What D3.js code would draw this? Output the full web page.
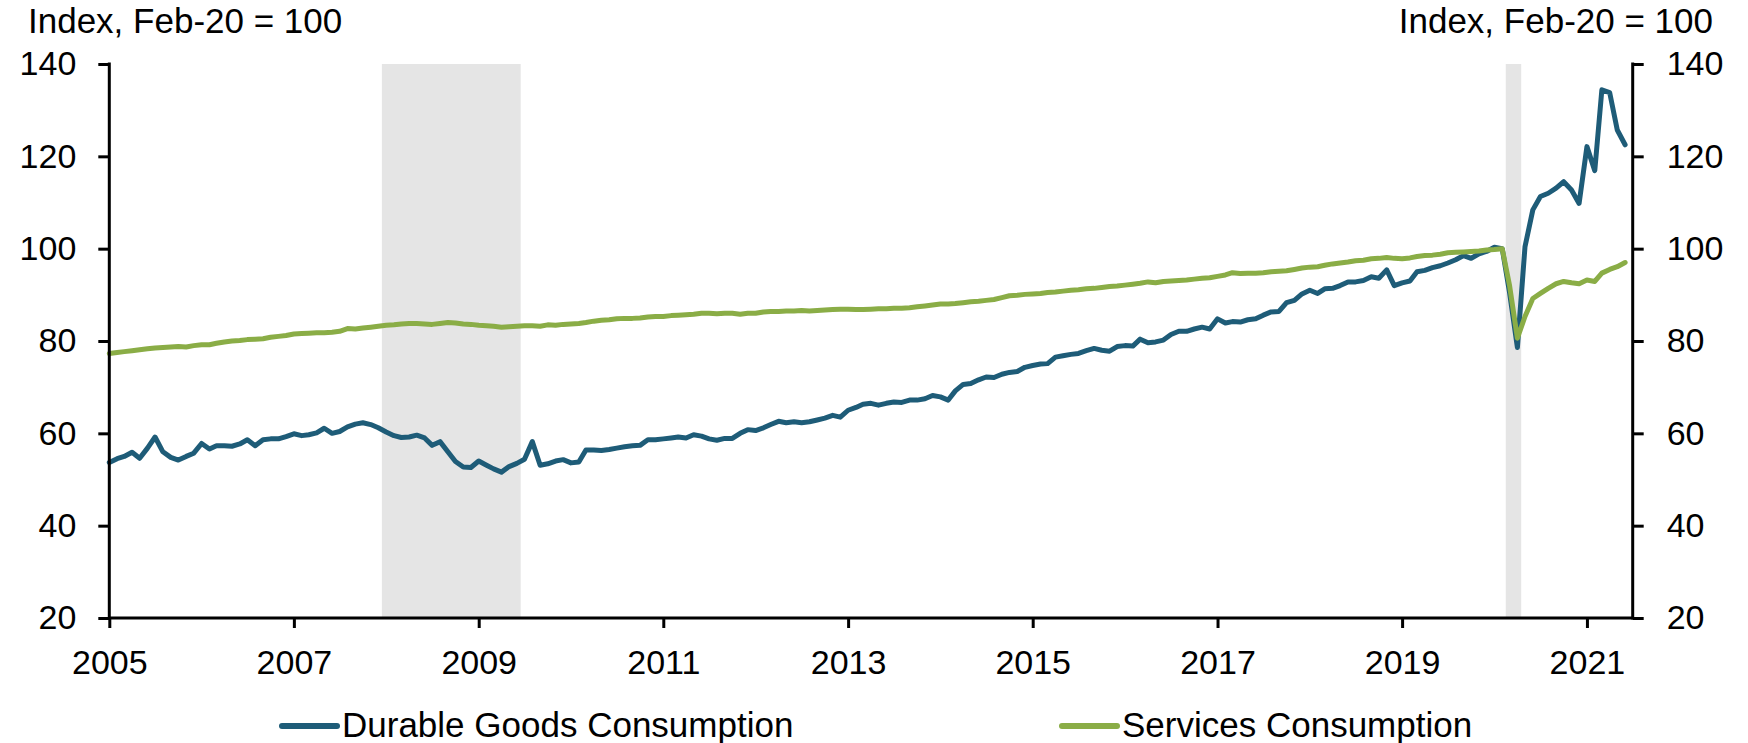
<!DOCTYPE html>
<html>
<head>
<meta charset="utf-8">
<script src="https://cdnjs.cloudflare.com/ajax/libs/d3/7.8.5/d3.min.js"></script>
<style>
  body { margin: 0; background: #fff; }
  svg { display: block; font-family: "Liberation Sans", Arial, sans-serif; }
</style>
</head>
<body>
<svg></svg>
<script>
// monthly, Jan 2005 .. Jun 2021
const startMonth = new Date(2005, 0, 1);

const durable = [
  53.7, 54.5, 55.0, 55.9, 54.6, 56.8, 59.2, 56.0, 54.8, 54.2, 55.0, 55.7,
  57.8, 56.6, 57.3, 57.3, 57.2, 57.7, 58.6, 57.3, 58.6, 58.8, 58.8, 59.3,
  59.9, 59.5, 59.7, 60.1, 61.1, 60.0, 60.4, 61.4, 62.0, 62.3, 61.9, 61.2,
  60.3, 59.5, 59.1, 59.2, 59.6, 59.0, 57.4, 58.2, 56.0, 53.9, 52.7, 52.6,
  54.0, 53.1, 52.3, 51.6, 52.8, 53.5, 54.4, 58.2, 53.1, 53.4, 54.0, 54.3,
  53.6, 53.8, 56.4, 56.4, 56.3, 56.5, 56.8, 57.1, 57.3, 57.4, 58.6, 58.6,
  58.8, 59.0, 59.2, 59.0, 59.7, 59.4, 58.8, 58.5, 58.9, 58.9, 60.0, 60.8,
  60.6, 61.2, 61.9, 62.6, 62.3, 62.5, 62.3, 62.5, 62.9, 63.3, 63.9, 63.5,
  65.0, 65.6, 66.3, 66.5, 66.1, 66.5, 66.8, 66.7, 67.2, 67.2, 67.5, 68.2,
  67.9, 67.2, 69.2, 70.6, 70.8, 71.6, 72.2, 72.1, 72.8, 73.2, 73.4, 74.3,
  74.7, 75.0, 75.1, 76.5, 76.8, 77.1, 77.3, 77.9, 78.4, 78.0, 77.8, 78.8,
  79.0, 78.9, 80.4, 79.6, 79.8, 80.2, 81.4, 82.1, 82.1, 82.6, 83.0, 82.6,
  84.8, 83.9, 84.2, 84.1, 84.6, 84.8, 85.6, 86.3, 86.4, 88.3, 88.8, 90.2,
  91.0, 90.3, 91.3, 91.4, 92.0, 92.8, 92.8, 93.1, 93.9, 93.6, 95.4, 92.0,
  92.6, 93.0, 95.0, 95.3, 95.9, 96.3, 96.9, 97.6, 98.5, 97.9, 98.9, 99.4,
  100.3, 100.0, 90.5, 78.6, 100.4, 108.4, 111.3, 112.0, 113.1, 114.5, 112.7, 109.8,
  122.1, 116.9, 134.4, 133.8, 125.7, 122.5
];

const services = [
  77.3, 77.5, 77.7, 77.9, 78.1, 78.3, 78.5, 78.6, 78.7, 78.8, 78.7, 79.0,
  79.2, 79.2, 79.5, 79.8, 80.0, 80.1, 80.3, 80.4, 80.5, 80.8, 81.0, 81.2,
  81.5, 81.6, 81.7, 81.8, 81.8, 81.9, 82.1, 82.7, 82.6, 82.8, 83.0, 83.2,
  83.4, 83.5, 83.7, 83.8, 83.8, 83.7, 83.6, 83.8, 84.0, 83.9, 83.7, 83.6,
  83.4, 83.3, 83.2, 83.0, 83.1, 83.2, 83.3, 83.3, 83.2, 83.5, 83.4, 83.6,
  83.7, 83.8, 84.0, 84.3, 84.5, 84.6, 84.8, 84.9, 84.9, 85.0, 85.2, 85.3,
  85.3, 85.5, 85.6, 85.7, 85.8, 86.0, 86.0, 85.9, 86.0, 86.0, 85.8, 86.0,
  86.0, 86.3, 86.4, 86.4, 86.5, 86.5, 86.6, 86.5, 86.6, 86.7, 86.8, 86.9,
  86.9, 86.8, 86.8, 86.9, 87.0, 87.0, 87.1, 87.1, 87.2, 87.4, 87.6, 87.8,
  88.0, 88.0, 88.1, 88.3, 88.5, 88.6, 88.8, 89.0, 89.4, 89.8, 89.9, 90.1,
  90.2, 90.3, 90.5, 90.6, 90.8, 91.0, 91.1, 91.3, 91.4, 91.6, 91.8, 91.9,
  92.1, 92.3, 92.5, 92.8, 92.6, 92.9, 93.0, 93.1, 93.2, 93.4, 93.6, 93.7,
  94.0, 94.3, 94.8, 94.6, 94.7, 94.7, 94.8, 95.0, 95.1, 95.2, 95.5, 95.8,
  96.0, 96.1, 96.4, 96.7, 96.9, 97.1, 97.4, 97.5, 97.8, 97.9, 98.1, 97.9,
  97.8, 98.0, 98.3, 98.5, 98.6, 98.8, 99.1, 99.2, 99.3, 99.4, 99.5, 99.7,
  99.8, 100.0, 92.0, 80.6, 85.3, 89.2, 90.3, 91.4, 92.4, 92.9, 92.6, 92.4,
  93.2, 92.9, 94.7, 95.5, 96.1, 97.0
];

const yearTicks = [2005, 2007, 2009, 2011, 2013, 2015, 2017, 2019, 2021];
const yTicks = [20, 40, 60, 80, 100, 120, 140];
const recessions = [
  ["2007-12-15", "2009-06-16"],
  ["2020-02-15", "2020-04-16"]
];
const seriesNames = ["Durable Goods Consumption", "Services Consumption"];
const seriesColors = ["#1e5c78", "#8aad46"];

const W = 1748, H = 743;
const m = {left: 109.3, right: 1632.7, top: 64, bottom: 618};

const svg = d3.select('svg')
    .attr('width', W)
    .attr('height', H);

const x = d3.scaleTime()
    .domain([new Date(2005, 0, 1), new Date(2021, 6, 1)])
    .range([m.left, m.right]);

const y = d3.scaleLinear()
    .domain([20, 140])
    .range([m.bottom, m.top]);

const parse = d3.timeParse("%Y-%m-%d");

// recession shading
svg.append('g')
  .selectAll('rect')
  .data(recessions)
  .join('rect')
    .attr('x', d => x(parse(d[0])))
    .attr('width', d => x(parse(d[1])) - x(parse(d[0])))
    .attr('y', y(140))
    .attr('height', y(20) - y(140))
    .attr('fill', '#e5e5e5');

const dates = durable.map((v, i) => d3.timeMonth.offset(startMonth, i));

const line = d3.line()
    .x((d, i) => x(dates[i]))
    .y(d => y(d));

[durable, services].forEach((s, k) => {
  svg.append('path')
    .datum(s)
    .attr('d', line)
    .attr('fill', 'none')
    .attr('stroke', seriesColors[k])
    .attr('stroke-width', 5)
    .attr('stroke-linejoin', 'round')
    .attr('stroke-linecap', 'round');
});

// axes
const fontSize = '34px';
const labelSize = '35px';

const yl = svg.append('g')
    .attr('transform', `translate(${m.left},0)`)
    .call(d3.axisLeft(y).tickValues(yTicks).tickSize(11).tickPadding(22));

const yr = svg.append('g')
    .attr('transform', `translate(${m.right},0)`)
    .call(d3.axisRight(y).tickValues(yTicks).tickSize(11).tickPadding(23));

const xa = svg.append('g')
    .attr('transform', `translate(0,${m.bottom})`)
    .call(d3.axisBottom(x)
      .tickValues(yearTicks.map(yy => new Date(yy, 0, 1)))
      .tickFormat(d3.timeFormat('%Y'))
      .tickSize(10)
      .tickPadding(22));

[yl, yr, xa].forEach(g => {
  g.select('.domain').remove();
  g.selectAll('line').attr('stroke', '#000').attr('stroke-width', 3);
  g.selectAll('text').attr('font-size', fontSize).attr('fill', '#000')
    .attr('font-family', '"Liberation Sans", Arial, sans-serif');
});

// axis lines
svg.append('line')
  .attr('x1', m.left).attr('x2', m.left)
  .attr('y1', y(140) - 1.5).attr('y2', y(20) + 1.5)
  .attr('stroke', '#000').attr('stroke-width', 3);
svg.append('line')
  .attr('x1', m.right).attr('x2', m.right)
  .attr('y1', y(140) - 1.5).attr('y2', y(20) + 1.5)
  .attr('stroke', '#000').attr('stroke-width', 3);
svg.append('line')
  .attr('x1', m.left).attr('x2', m.right)
  .attr('y1', m.bottom).attr('y2', m.bottom)
  .attr('stroke', '#000').attr('stroke-width', 3);

// unit labels
svg.append('text')
  .text('Index, Feb-20 = 100')
  .attr('x', 28)
  .attr('y', 33)
  .attr('font-size', labelSize);

svg.append('text')
  .text('Index, Feb-20 = 100')
  .attr('x', 1713)
  .attr('y', 33)
  .attr('text-anchor', 'end')
  .attr('font-size', labelSize);

// legend
const legendX = [282, 1062];
seriesNames.forEach((name, k) => {
  svg.append('line')
    .attr('x1', legendX[k]).attr('x2', legendX[k] + 55)
    .attr('y1', 726).attr('y2', 726)
    .attr('stroke', seriesColors[k])
    .attr('stroke-width', 6)
    .attr('stroke-linecap', 'round');
  svg.append('text')
    .text(name)
    .attr('x', legendX[k] + 60)
    .attr('y', 737)
    .attr('font-size', labelSize);
});
</script>
</body>
</html>
